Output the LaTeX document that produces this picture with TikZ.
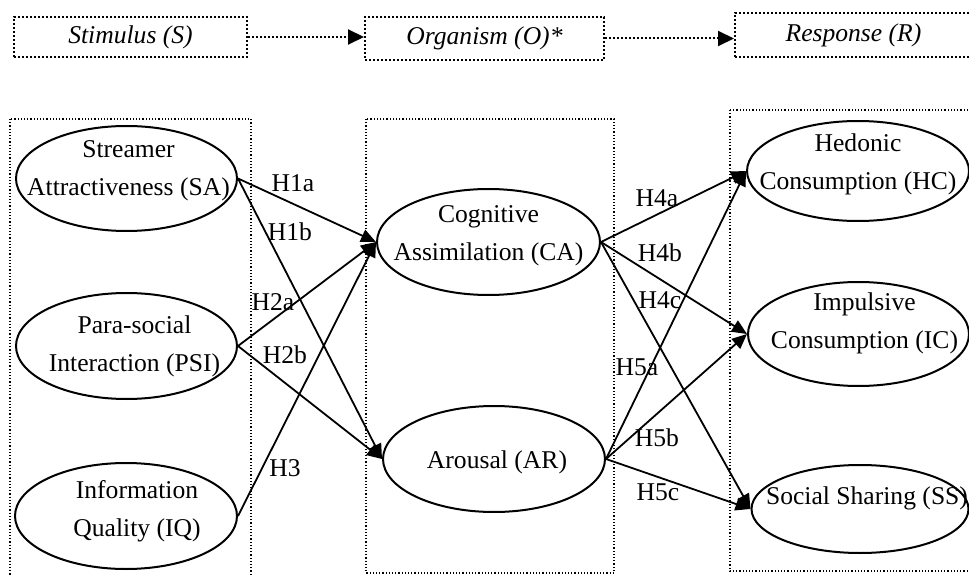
\documentclass[tikz,border=0pt]{standalone}
\usepackage{fontspec}
\setmainfont{Liberation Serif}
\usetikzlibrary{shapes.geometric,arrows.meta}
\begin{document}
\begin{tikzpicture}[x=0.5pt,y=-0.5pt,
      font=\fontsize{12.8}{19}\selectfont,
      construct/.style={ellipse, draw, line width=1pt, inner sep=0pt},
      stagebox/.style={rectangle, draw, densely dotted, line width=1pt, inner sep=0pt},
      groupbox/.style={densely dotted, line width=0.6pt},
      link/.style={-{Triangle[length=7.5pt,width=6.5pt]}, line width=0.9pt},
      flow/.style={-{Triangle[length=8pt,width=7.5pt]}, densely dotted, line width=1pt},
      hyp/.style={inner sep=0pt}]
      \useasboundingbox (0,0) rectangle (969,577);

% S-O-R stages
      \node[stagebox, minimum width=116.5pt, minimum height=20pt] (stim) at (130.5,37) {\itshape Stimulus (S)};
      \node[stagebox, minimum width=119.5pt, minimum height=21.5pt] (org) at (484.5,38.5) {\itshape Organism (O)*};
      \node[stagebox, minimum width=118.5pt, minimum height=22pt] (resp) at (853.5,35) {\itshape Response (R)};
      \draw[flow] (stim.east) -- (stim.east -| org.west);
      \draw[flow] (org.east) -- (org.east -| resp.west);

% Groups
      \draw[groupbox] (10,119) rectangle (251,580);
      \draw[groupbox] (366,119) rectangle (614,573);
      \draw[groupbox] (730,110) rectangle (972,571);

% Stimulus constructs
      \node[construct, minimum width=110.5pt, minimum height=52.5pt] (sa) at (126.5,178.5) {};
      \node[xshift=1pt, yshift=4pt] at (sa) [align=center] {Streamer\\Attractiveness (SA)};
      \node[construct, minimum width=110.5pt, minimum height=53pt] (psi) at (126.5,346) {};
      \node[xshift=4pt] at (psi) [align=center] {Para-social\\Interaction (PSI)};
      \node[construct, minimum width=111pt, minimum height=53pt] (iq) at (126,516) {};
      \node[xshift=5.5pt, yshift=2.5pt] at (iq) [align=center] {Information\\Quality (IQ)};

% Organism constructs
      \node[construct, minimum width=111.5pt, minimum height=53pt] (ca) at (488.5,242) {};
      \node[yshift=3pt] at (ca) [align=center] {Cognitive\\Assimilation (CA)};
      \node[construct, minimum width=111pt, minimum height=53pt] (ar) at (494,459) {};
      \node[xshift=1.5pt, yshift=-1.5pt] at (ar) {Arousal (AR)};

% Response constructs
      \node[construct, minimum width=111pt, minimum height=50pt] (hc) at (858,171) {};
      \node[yshift=3.5pt] at (hc) [align=center] {Hedonic\\Consumption (HC)};
      \node[construct, minimum width=110.5pt, minimum height=52pt] (ic) at (858.5,334) {};
      \node[xshift=3pt, yshift=5.5pt] at (ic) [align=center] {Impulsive\\Consumption (IC)};
      \node[construct, minimum width=108.5pt, minimum height=44pt] (ss) at (860,509) {};
      \node[xshift=3.5pt, yshift=5.5pt] at (ss) {Social Sharing (SS)};

% Hypotheses S -> O
      \draw[link] (sa.east) -- (ca.west);
      \draw[link] (sa.east) -- (ar.west);
      \draw[link] (psi.east) -- (ca.west);
      \draw[link] (psi.east) -- (ar.west);
      \draw[link] (iq.east) -- (ca.west);

% Hypotheses O -> R
      \draw[link] (ca.east) -- (hc.west);
      \draw[link] (ca.east) -- (ic.west);
      \draw[link] (ca.east) -- (ss.west);
      \draw[link] (ar.east) -- (hc.west);
      \draw[link] (ar.east) -- (ic.west);
      \draw[link] (ar.east) -- (ss.west);

% Labels
      \node[hyp] (h1a) at (293,183) {H1a};
      \node[hyp] (h1b) at (290,232) {H1b};
      \node[hyp] (h2a) at (273,302) {H2a};
      \node[hyp] (h2b) at (285,355) {H2b};
      \node[hyp] (h3) at (285,468) {H3};
      \node[hyp] (h4a) at (657,198) {H4a};
      \node[hyp] (h4b) at (660,253) {H4b};
      \node[hyp] (h4c) at (660,300) {H4c};
      \node[hyp] (h5a) at (637,367) {H5a};
      \node[hyp] (h5b) at (657,438) {H5b};
      \node[hyp] (h5c) at (658,492) {H5c};

    \end{tikzpicture}
\end{document}
